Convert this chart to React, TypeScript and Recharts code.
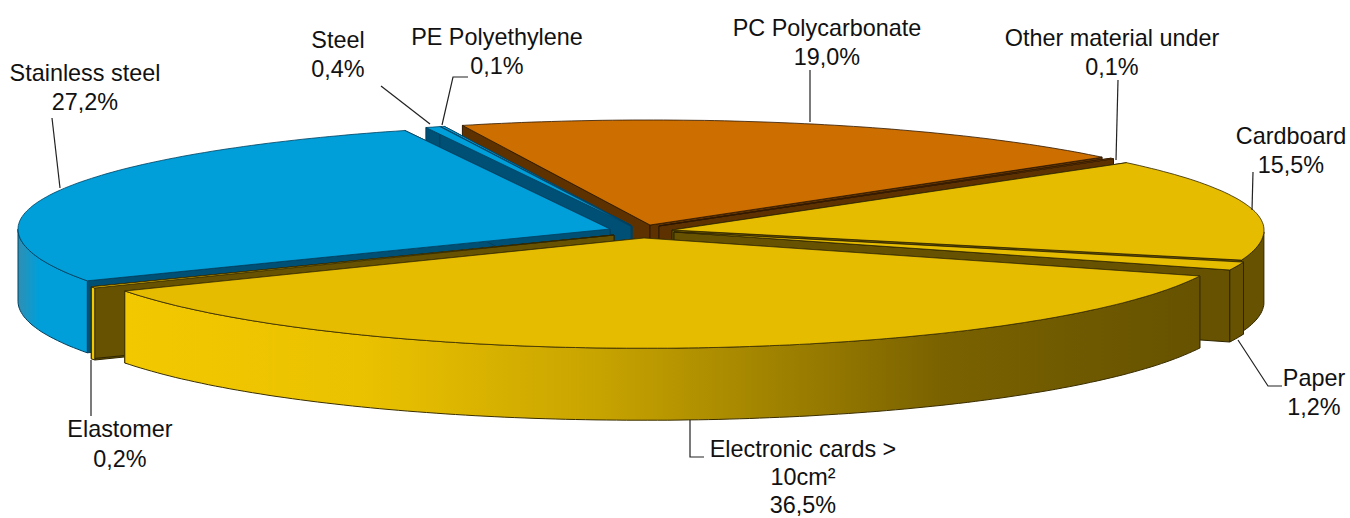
// App.tsx
import { PieChart, Pie } from "recharts";

const materials = [
  "Stainless steel",
  "Steel",
  "PE Polyethylene",
  "PC Polycarbonate",
  "Other material under",
  "Cardboard",
  "Paper",
  "Electronic cards > 10cm²",
  "Elastomer",
];
const shares = [27.2, 0.4, 0.1, 19.0, 0.1, 15.5, 1.2, 36.5, 0.2];

const data = materials.map((name, i) => ({ name, value: shares[i] }));

// back to front, the pie is a fake 3D one so the paint order matters
const paintOrder = [3, 4, 2, 1, 0, 5, 6, 8, 7];

const CX = 640;
const CY = 232;
const RADIUS = 592;
const SQUASH = 105 / 592;
const NEAR_STRETCH = 1.05; // front half looks a bit bigger
const DEPTH = 72;

// one entry per slice, same order as materials
const sliceStyles = [
  { dx: -30, dy: -3, top: "#009FD9", rim: "url(#steelRim)", side: "#004F75", line: "#00405F" },
  { dx: -9, dy: -6, top: "#009FD9", rim: "#005F85", side: "#004F75", line: "#00405F" },
  { dx: -8, dy: -6, top: "#009FD9", rim: "#005F85", side: "#004F75", line: "#00405F" },
  { dx: 10, dy: -7, top: "#CC6E00", rim: "#5E3200", side: "#5E3200", line: "#2E1800" },
  { dx: 19, dy: -6, top: "#CC6E00", rim: "#5E3200", side: "#5E3200", line: "#2E1800" },
  { dx: 32, dy: -2, top: "#E6BC00", rim: "#665200", side: "#665200", line: "#2E2500" },
  { dx: 34, dy: 0, top: "#E6BC00", rim: "#665200", side: "#665200", line: "#2E2500" },
  { dx: 4, dy: 6, top: "#E6BC00", rim: "url(#cardsRim)", side: "#665200", line: "#3A2E00" },
  { dx: -26, dy: 3, top: "#F2C800", rim: "#F2C800", side: "#665200", line: "#2E2500" },
];

// text lines and leader line of every label
const labelStyles = [
  { x: 85, y: 81, gap: 29, lines: ["Stainless steel"], leader: [[52, 118], [60, 188]] },
  { x: 338, y: 48, gap: 29, lines: ["Steel"], leader: [[381, 86], [430, 124]] },
  { x: 497, y: 45, gap: 29, lines: ["PE Polyethylene"], leader: [[468, 77], [453, 77], [442, 125]] },
  { x: 827, y: 36, gap: 29, lines: ["PC Polycarbonate"], leader: [[810, 70], [810, 122]] },
  { x: 1112, y: 46, gap: 29, lines: ["Other material under"], leader: [[1118, 80], [1116, 160]] },
  { x: 1291, y: 144, gap: 29, lines: ["Cardboard"], leader: [[1253, 172], [1252, 210]] },
  { x: 1314, y: 386, gap: 29, lines: ["Paper"], leader: [[1238, 340], [1268, 386], [1282, 386]] },
  { x: 803, y: 457, gap: 28, lines: ["Electronic cards >", "10cm²"], leader: [[690, 420], [690, 457], [704, 457]] },
  { x: 120, y: 437, gap: 30, lines: ["Elastomer"], leader: [[91, 360], [91, 416]] },
];

const toPath = (pts: number[][]) =>
  pts.map((p, i) => `${i ? "L" : "M"}${p[0].toFixed(1)},${p[1].toFixed(1)}`).join("") + "Z";

const Slice = (props: any) => {
  const { cx, cy, outerRadius, startAngle, endAngle, index } = props;
  const st = sliceStyles[index];
  const ox = cx + st.dx;
  const oy = cy + st.dy;

  // flatten the circle the library laid out into an ellipse
  const project = (deg: number) => {
    const a = (deg * Math.PI) / 180;
    const s = Math.sin(a);
    return [
      ox + outerRadius * Math.cos(a),
      oy - outerRadius * SQUASH * s * (s < 0 ? NEAR_STRETCH : 1),
    ];
  };
  const angles: number[] = [];
  const steps = Math.max(2, Math.ceil(Math.abs(endAngle - startAngle)));
  for (let i = 0; i <= steps; i++) {
    angles.push(startAngle + ((endAngle - startAngle) * i) / steps);
  }
  const arc = angles.map(project);
  const down = (p: number[]) => [p[0], p[1] + DEPTH];
  const apex = [ox, oy];

  const near = angles.filter((a) => Math.sin((a * Math.PI) / 180) <= 0.001).map(project);
  const first = arc[0];
  const last = arc[arc.length - 1];

  return (
    <g>
      <path
        d={toPath([apex, first, down(first), down(apex)])}
        fill={st.side}
        stroke={st.line}
        strokeWidth={1}
      />
      <path
        d={toPath([apex, last, down(last), down(apex)])}
        fill={st.side}
        stroke={st.line}
        strokeWidth={1}
      />
      {near.length > 1 && (
        <path
          d={toPath([...near, ...near.map(down).reverse()])}
          fill={st.rim}
          stroke={st.line}
          strokeWidth={1}
        />
      )}
      <path d={toPath([apex, ...arc])} fill={st.top} stroke={st.line} strokeWidth={0.8} />
    </g>
  );
};

const renderLabel = (props: any) => {
  const { index } = props;
  const lab = labelStyles[index];
  const percent = shares[index].toFixed(1).replace(".", ",") + "%";
  const lines = [...lab.lines, percent];
  return (
    <g key={index}>
      <polyline
        points={lab.leader.map((p) => p.join(",")).join(" ")}
        fill="none"
        stroke="#222"
        strokeWidth={1.2}
      />
      {lines.map((t, i) => (
        <text
          key={i}
          x={lab.x}
          y={lab.y + i * lab.gap}
          textAnchor="middle"
          fontFamily="'Liberation Sans', Arial, sans-serif"
          fontSize={23.4}
          fill="#111"
        >
          {t}
        </text>
      ))}
    </g>
  );
};

export default function App() {
  return (
    <div style={{ position: "absolute", left: 0, top: 0, width: 1350, height: 518 }}>
      <PieChart width={1350} height={518} margin={{ top: 0, right: 0, bottom: 0, left: 0 }}>
        <defs>
          <linearGradient id="cardsRim" x1="0" y1="0" x2="1" y2="0">
            <stop offset="0" stopColor="#F2C800" />
            <stop offset="0.22" stopColor="#EBC200" />
            <stop offset="0.44" stopColor="#C8A400" />
            <stop offset="0.76" stopColor="#7A6200" />
            <stop offset="1" stopColor="#665200" />
          </linearGradient>
          <linearGradient id="steelRim" x1="0" y1="0" x2="1" y2="0">
            <stop offset="0" stopColor="#2F8FB3" />
            <stop offset="0.3" stopColor="#009FD9" />
            <stop offset="1" stopColor="#009FD9" />
          </linearGradient>
        </defs>
        {paintOrder.map((idx, n) => (
          <Pie
            key={idx}
            data={data}
            dataKey="value"
            nameKey="name"
            cx={CX}
            cy={CY}
            outerRadius={RADIUS}
            startAngle={208}
            endAngle={-152}
            paddingAngle={0}
            isAnimationActive={false}
            labelLine={false}
            label={n === paintOrder.length - 1 ? renderLabel : false}
            shape={(p: any) => (p.index === idx ? <Slice {...p} /> : <g />)}
          />
        ))}
      </PieChart>
    </div>
  );
}
